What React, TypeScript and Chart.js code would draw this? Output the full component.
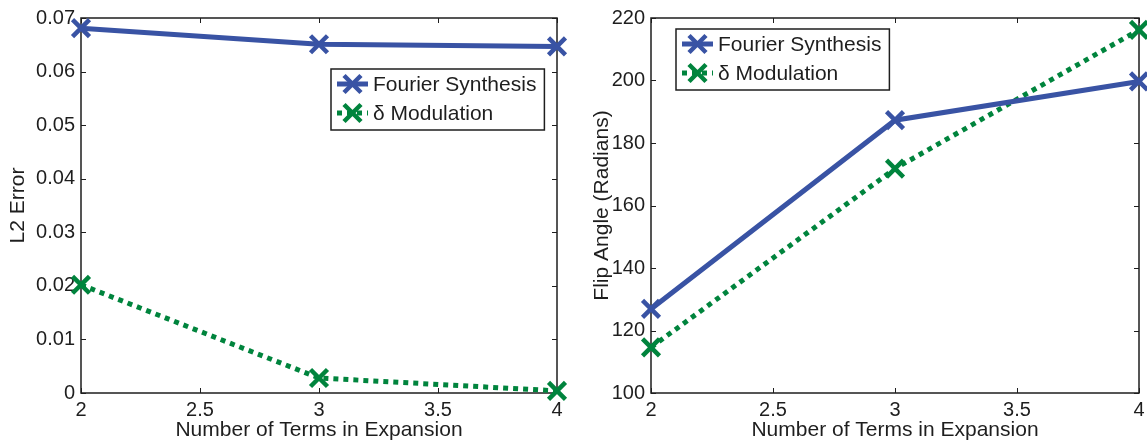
import React, { useEffect, useRef } from 'react';
import { Chart, registerables } from 'chart.js';

Chart.register(...registerables);

// ---------- data ----------
const xValues = [2, 3, 4];
const xTicks = [2, 2.5, 3, 3.5, 4];
const xTickLabels = ['2', '2.5', '3', '3.5', '4'];
const seriesLabels = ['Fourier Synthesis', 'δ Modulation'];

const errorFourier = [0.0681, 0.0651, 0.0647];
const errorDelta = [0.0202, 0.0028, 0.0004];
const errorTicks = [0, 0.01, 0.02, 0.03, 0.04, 0.05, 0.06, 0.07];
const errorTickLabels = ['0', '0.01', '0.02', '0.03', '0.04', '0.05', '0.06', '0.07'];

const flipFourier = [126.9, 187.3, 199.7];
const flipDelta = [114.6, 171.8, 216.2];
const flipTicks = [100, 120, 140, 160, 180, 200, 220];
const flipTickLabels = ['100', '120', '140', '160', '180', '200', '220'];

const xTitle = 'Number of Terms in Expansion';
const errorTitle = 'L2 Error';
const flipTitle = 'Flip Angle (Radians)';

// ---------- style ----------
const FONT = '"Liberation Sans", Arial, Helvetica, sans-serif';
const BLUE = '#3953A4';
const GREEN = '#00843D';
const INK = '#1e1e1e';

function drawX(ctx: CanvasRenderingContext2D, cx: number, cy: number, r: number, color: string, lw: number) {
  ctx.save();
  ctx.setLineDash([]);
  ctx.strokeStyle = color;
  ctx.lineWidth = lw;
  ctx.lineCap = 'butt';
  const d = r * Math.SQRT1_2;
  ctx.beginPath();
  ctx.moveTo(cx - d, cy - d);
  ctx.lineTo(cx + d, cy + d);
  ctx.moveTo(cx - d, cy + d);
  ctx.lineTo(cx + d, cy - d);
  ctx.stroke();
  ctx.restore();
}

const framePlugin = {
  id: 'frame',
  beforeDatasetsDraw(chart: any) {
    const { ctx, chartArea: a, scales } = chart;
    ctx.save();
    ctx.strokeStyle = INK;
    ctx.lineWidth = 1.5;
    ctx.setLineDash([]);
    ctx.strokeRect(a.left, a.top, a.right - a.left, a.bottom - a.top);
    const tl = 5;
    ctx.lineWidth = 1;
    ctx.beginPath();
    scales.x.ticks.forEach((t: any) => {
      const px = Math.round(scales.x.getPixelForValue(t.value)) + 0.5;
      ctx.moveTo(px, a.bottom);
      ctx.lineTo(px, a.bottom - tl);
      ctx.moveTo(px, a.top);
      ctx.lineTo(px, a.top + tl);
    });
    scales.y.ticks.forEach((t: any) => {
      const py = Math.round(scales.y.getPixelForValue(t.value)) + 0.5;
      ctx.moveTo(a.left, py);
      ctx.lineTo(a.left + tl, py);
      ctx.moveTo(a.right, py);
      ctx.lineTo(a.right - tl, py);
    });
    ctx.stroke();
    ctx.restore();
  },
};

const legendPlugin = {
  id: 'boxLegend',
  afterDraw(chart: any, _args: any, opts: any) {
    const { ctx } = chart;
    const x0 = opts.x;
    const y0 = opts.y;
    const rowH = 29;
    ctx.save();
    ctx.font = `21px ${FONT}`;
    const datasets = chart.data.datasets;
    let maxW = 0;
    datasets.forEach((d: any) => {
      maxW = Math.max(maxW, ctx.measureText(d.label).width);
    });
    const w = 42 + maxW + 8;
    const h = 61;
    ctx.fillStyle = '#ffffff';
    ctx.fillRect(x0, y0, w, h);
    ctx.strokeStyle = INK;
    ctx.lineWidth = 1.5;
    ctx.strokeRect(x0, y0, w, h);
    datasets.forEach((d: any, i: number) => {
      const cy = y0 + 15 + i * rowH;
      ctx.save();
      ctx.strokeStyle = d.borderColor;
      ctx.lineWidth = d.borderWidth;
      ctx.setLineDash(d.borderDash || []);
      ctx.beginPath();
      ctx.moveTo(x0 + 6, cy);
      ctx.lineTo(x0 + 37, cy);
      ctx.stroke();
      ctx.restore();
      drawX(ctx, x0 + 21.5, cy, d.pointRadius, d.pointBorderColor, d.pointBorderWidth);
      ctx.fillStyle = INK;
      ctx.textBaseline = 'middle';
      ctx.textAlign = 'left';
      ctx.fillText(d.label, x0 + 42, cy + 1);
    });
    ctx.restore();
  },
};

function makeDataset(label: string, ys: number[], color: string, dashed: boolean) {
  return {
    label,
    data: xValues.map((x, i) => ({ x, y: ys[i] })),
    borderColor: color,
    backgroundColor: color,
    borderWidth: 5,
    borderDash: dashed ? [5, 5] : [],
    borderCapStyle: 'butt',
    pointStyle: 'crossRot',
    pointRadius: 12,
    pointHoverRadius: 12,
    pointBorderWidth: 4.5,
    pointBorderColor: color,
    pointBackgroundColor: color,
    tension: 0,
    fill: false,
    clip: false,
  };
}

function makeConfig(p: {
  fourier: number[];
  delta: number[];
  yTicks: number[];
  yTickLabels: string[];
  yTitle: string;
  yTitlePad: number;
  rightPad: number;
  legendX: number;
  legendY: number;
}): any {
  return {
    type: 'line',
    data: {
      datasets: [
        makeDataset(seriesLabels[0], p.fourier, BLUE, false),
        makeDataset(seriesLabels[1], p.delta, GREEN, true),
      ],
    },
    options: {
      responsive: false,
      animation: false,
      devicePixelRatio: 1,
      layout: { autoPadding: false, padding: { left: 0, right: p.rightPad, top: 18, bottom: 0 } },
      plugins: {
        legend: { display: false },
        tooltip: { enabled: false },
        boxLegend: { x: p.legendX, y: p.legendY },
      },
      events: [],
      scales: {
        x: {
          type: 'linear',
          min: xTicks[0],
          max: xTicks[xTicks.length - 1],
          afterBuildTicks: (s: any) => {
            s.ticks = xTicks.map((v) => ({ value: v }));
          },
          afterFit: (s: any) => {
            s.height = 51;
            s.paddingLeft = 0;
            s.paddingRight = 0;
          },
          grid: { display: false, drawTicks: false },
          border: { display: false },
          ticks: {
            autoSkip: false,
            maxRotation: 0,
            padding: 5,
            color: INK,
            font: { family: FONT, size: 20 },
            callback: (_v: any, i: number) => xTickLabels[i],
          },
          title: {
            display: true,
            text: xTitle,
            color: INK,
            font: { family: FONT, size: 21 },
            padding: { top: 0, bottom: 1 },
          },
        },
        y: {
          type: 'linear',
          min: p.yTicks[0],
          max: p.yTicks[p.yTicks.length - 1],
          afterBuildTicks: (s: any) => {
            s.ticks = p.yTicks.map((v) => ({ value: v }));
          },
          afterFit: (s: any) => {
            s.width = 81;
            s.paddingTop = 0;
            s.paddingBottom = 0;
          },
          grid: { display: false, drawTicks: false },
          border: { display: false },
          ticks: {
            autoSkip: false,
            padding: 6,
            color: INK,
            font: { family: FONT, size: 20 },
            callback: (_v: any, i: number) => p.yTickLabels[i],
          },
          title: {
            display: true,
            text: p.yTitle,
            color: INK,
            font: { family: FONT, size: 21 },
            padding: { top: p.yTitlePad, bottom: 0 },
          },
        },
      },
    },
    plugins: [framePlugin, legendPlugin],
  };
}

function Panel(props: { left: number; width: number; config: any }) {
  const ref = useRef<HTMLCanvasElement | null>(null);
  useEffect(() => {
    if (!ref.current) return;
    const chart = new Chart(ref.current, props.config);
    return () => chart.destroy();
  }, []);
  return (
    <div style={{ position: 'absolute', left: props.left, top: 0, width: props.width, height: 444 }}>
      <canvas ref={ref} width={props.width} height={444} style={{ display: 'block' }} />
    </div>
  );
}

export default function App() {
  const leftConfig = makeConfig({
    fourier: errorFourier,
    delta: errorDelta,
    yTicks: errorTicks,
    yTickLabels: errorTickLabels,
    yTitle: errorTitle,
    yTitlePad: 6,
    rightPad: 13,
    legendX: 331,
    legendY: 69,
  });
  const rightConfig = makeConfig({
    fourier: flipFourier,
    delta: flipDelta,
    yTicks: flipTicks,
    yTickLabels: flipTickLabels,
    yTitle: flipTitle,
    yTitlePad: 20,
    rightPad: 8,
    legendX: 106,
    legendY: 29,
  });
  return (
    <div style={{ position: 'absolute', left: 0, top: 0, width: 1147, height: 444, background: '#ffffff' }}>
      <Panel left={0} width={570} config={leftConfig} />
      <Panel left={570} width={577} config={rightConfig} />
    </div>
  );
}
